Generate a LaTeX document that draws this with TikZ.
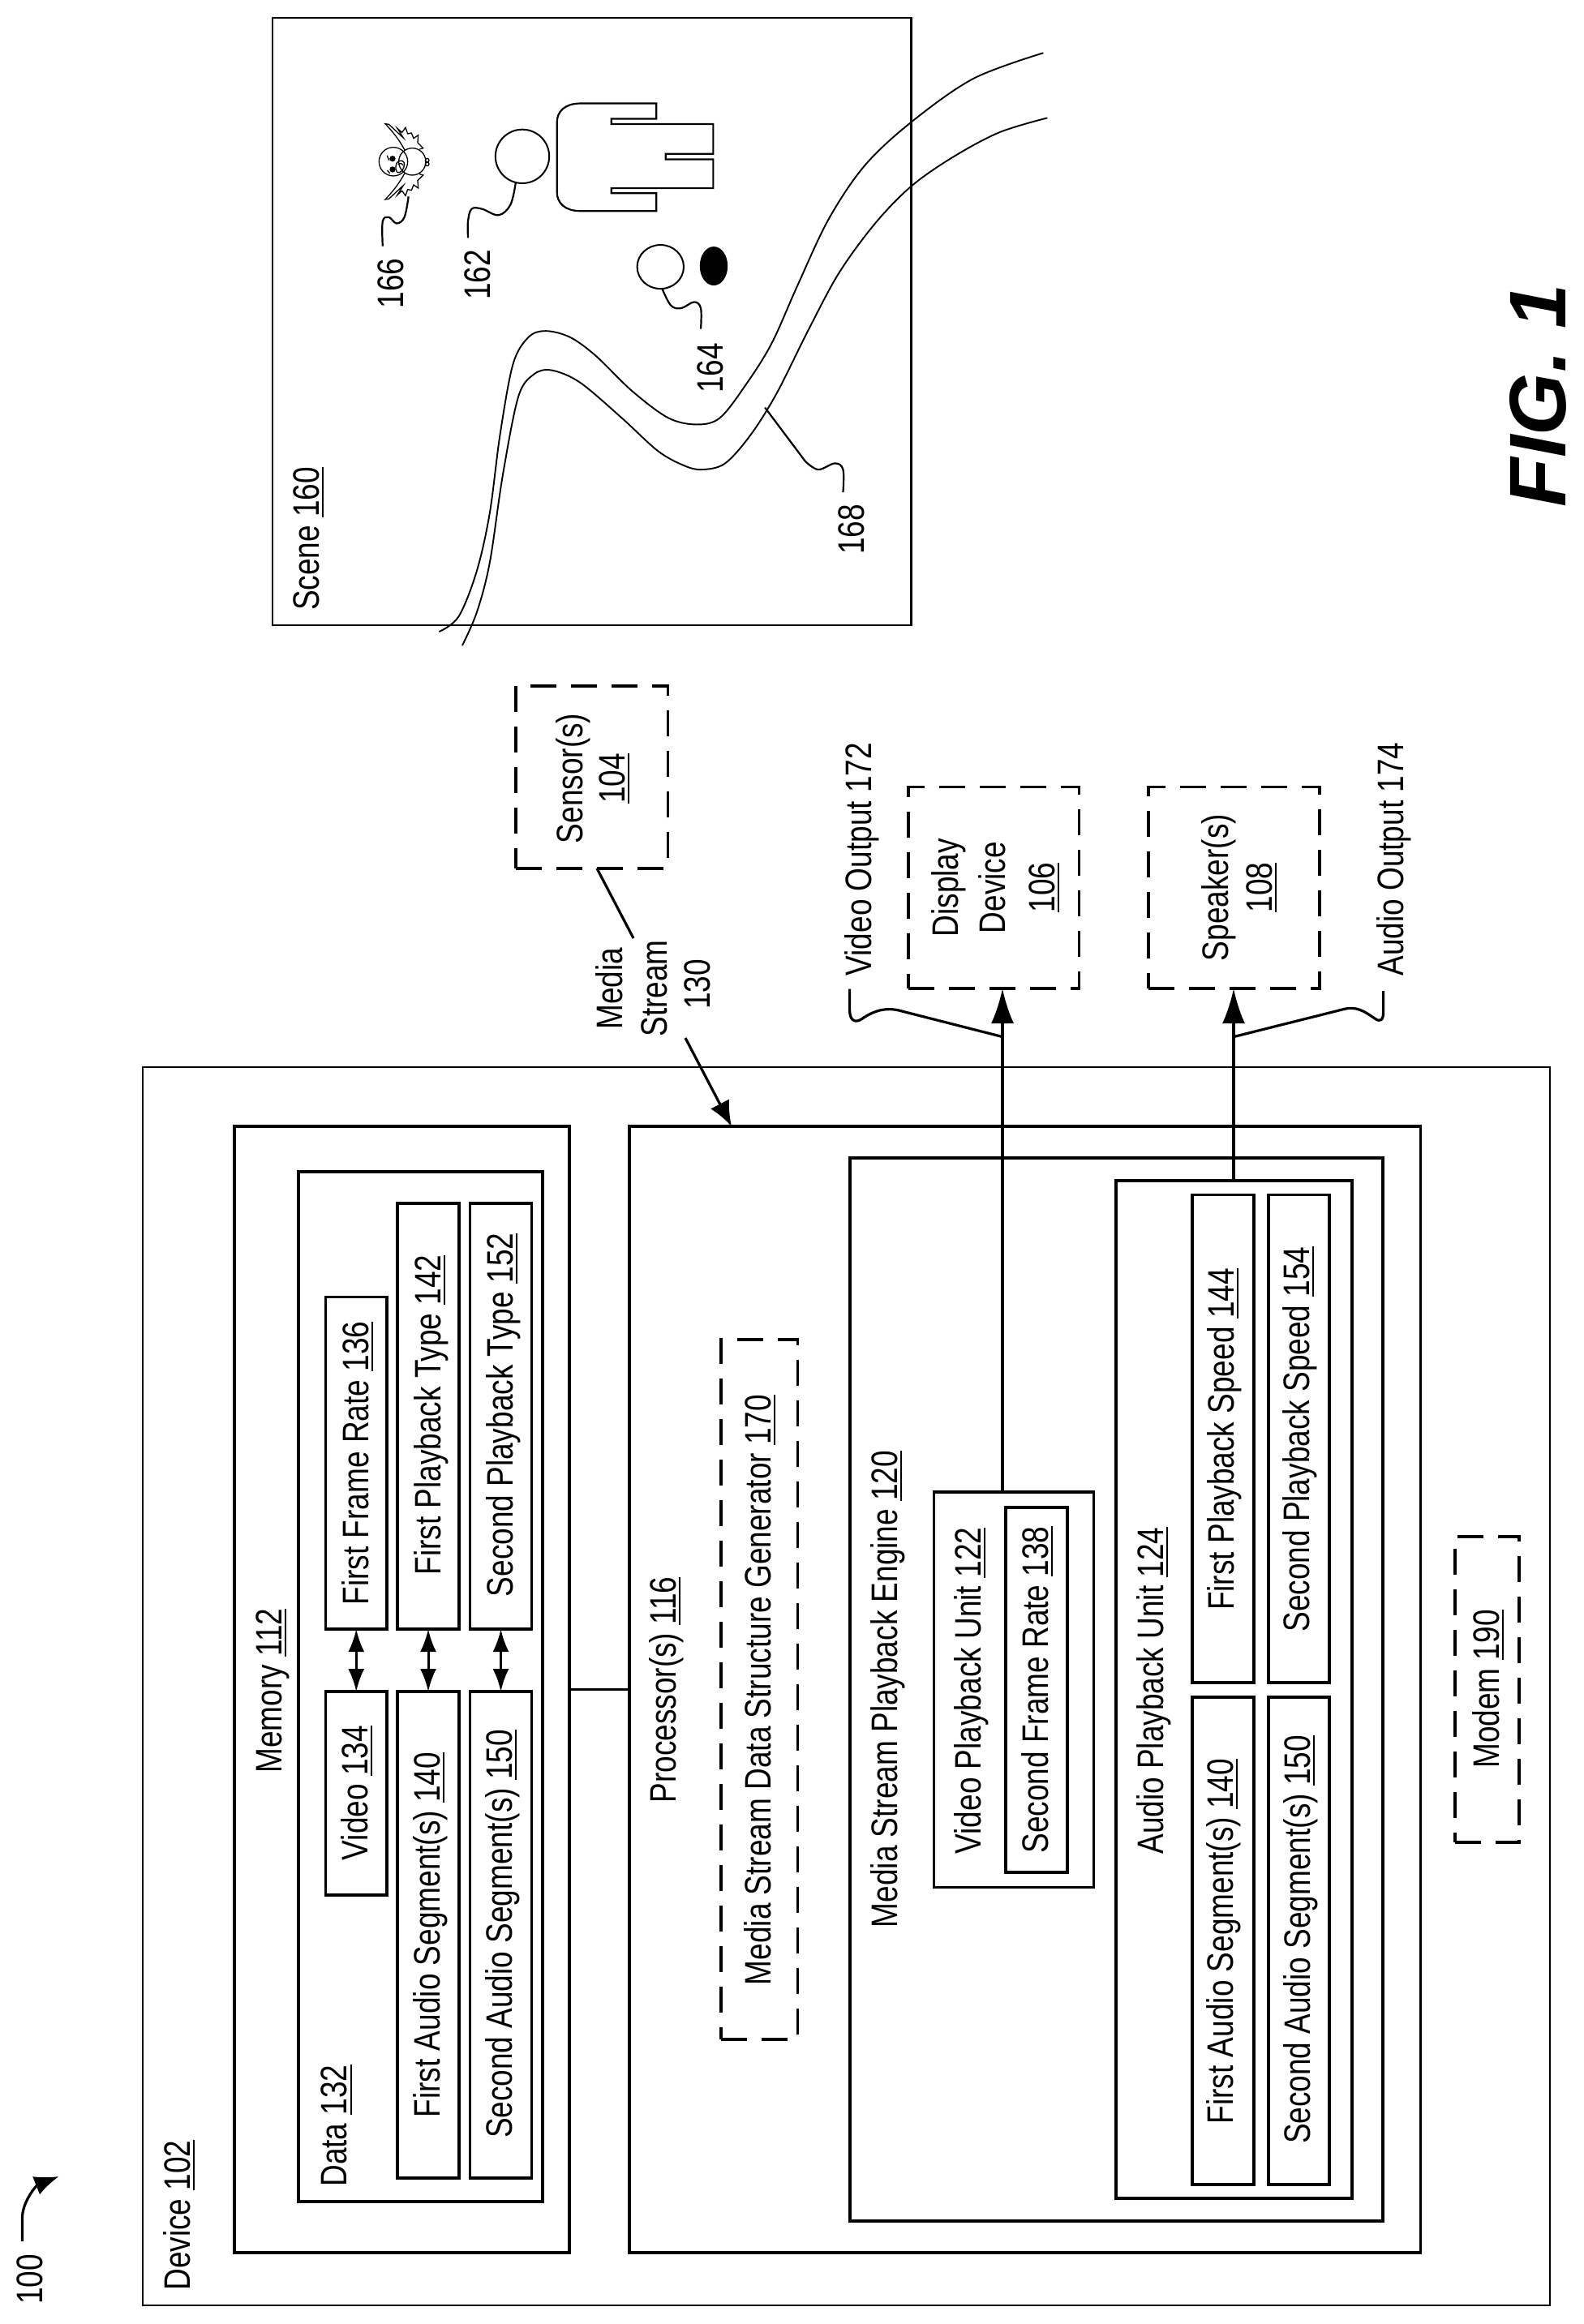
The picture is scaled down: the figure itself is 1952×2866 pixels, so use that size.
\documentclass[tikz,border=0pt]{standalone}
\usepackage{fontspec}
\setmainfont{Liberation Sans}
\usetikzlibrary{arrows.meta,calc}
\newcommand\ulnum[1]{\leavevmode\setbox0\hbox{#1}\rlap{\vrule width\wd0 height -3.3pt depth 5.2pt}\box0 }
\newcommand\bx[6]{\pgfmathsetmacro\bxw{#5-#3}\pgfmathsetmacro\bxh{#6-#4}\pgfmathsetmacro\bxcx{(#3+#5)/2}\pgfmathsetmacro\bxcy{(#4+#6)/2}\node[#1,minimum width=\bxw pt,minimum height=\bxh pt] (#2) at (\bxcx,\bxcy) {};}
\newcommand\tx[4]{\node[lbl] (#1) at (#2,#3) {#4};}
\newcommand\wingpath{(297,405) .. controls (275,365) and (255,340) .. (225,308) -- (238,310) .. controls (255,325) and (275,345) .. (292,360) -- (270,325) -- (287,340) -- (300,322) -- (308,345) -- (322,342) -- (330,362) -- (347,350) -- (345,378) -- (365,398) -- (352,402)}
\tikzset{
  x=1pt,y=-1pt,
  boxa/.style={draw,line width=3.2pt,inner sep=0pt,outer sep=0pt},
  boxthin/.style={draw,line width=2.6pt,inner sep=0pt,outer sep=0pt},
  dashbox/.style={draw,line width=3.4pt,inner sep=0pt,outer sep=0pt,dash pattern=on 32pt off 18pt},
  lbl/.style={rotate=90,yscale=1.23,anchor=base,inner sep=0pt,font=\fontsize{37}{42}\selectfont},
  figlbl/.style={rotate=90,anchor=base,inner sep=0pt,font=\fontsize{99}{110}\selectfont\bfseries\itshape},
  conn/.style={line width=3.2pt},
  bigarr/.style={line width=3.2pt,-{Latex[length=43pt,width=28pt]}},
  midarr/.style={line width=3.2pt,-{Latex[length=31pt,width=26pt]}},
  dbl/.style={line width=3pt,{Latex[length=28pt,width=20pt]}-{Latex[length=28pt,width=20pt]}},
  road/.style={line width=1.9pt},
  lead/.style={line width=2.2pt},
}
\begin{document}
\begin{tikzpicture}
\useasboundingbox (0,0) rectangle (1952,2866);
\fill[white] (0,0) rectangle (1952,2866);
% scene
\bx{boxthin}{scene}{336}{22}{1123.6}{771}
\begin{scope}[shift={(320,0)},x=.6378pt,y=-.5102pt]
\draw[road] plot[smooth,tension=.55] coordinates {(347,1527)(385,1490)(420,1380)(445,1240)(465,1050)(490,880)(520,815)(553,800)(600,815)(650,860)(720,945)(790,1010)(845,1026)(890,1010)(940,930)(990,830)(1040,690)(1100,530)(1170,400)(1260,295)(1380,190)(1515,128)};
\draw[road] plot[smooth,tension=.55] coordinates {(392,1560)(420,1480)(445,1360)(470,1150)(500,960)(530,905)(565,895)(620,925)(700,1010)(770,1090)(820,1125)(855,1135)(900,1120)(950,1050)(1000,950)(1060,800)(1120,660)(1190,540)(1260,450)(1340,380)(1430,320)(1523,285)};
\draw[line width=2.2pt] (767,250) -- (767,287) -- (680,287) -- (680,300) -- (877,300) -- (877,372) -- (785,372) -- (785,385) -- (877,385) -- (877,455) -- (680,455) -- (680,467) -- (767,467) -- (767,510) -- (620,510) .. controls (590,510) and (575,490) .. (575,465) -- (575,295) .. controls (575,270) and (590,250) .. (620,250) -- cycle;
\draw[line width=2pt] (508,378) ellipse [x radius=52,y radius=65];
\draw[line width=2pt] (775,645) ellipse [x radius=45,y radius=53];
\fill (878,643) ellipse [x radius=27,y radius=47];
\draw[lead] plot[smooth,tension=.6] coordinates {(495,443)(485,495)(462,520)(430,505)(410,505)(403,535)(403,575)};
\draw[lead] plot[smooth,tension=.6] coordinates {(288,475)(280,525)(265,540)(250,525)(238,535)(238,595)};
\draw[lead] plot[smooth,tension=.6] coordinates {(778,697)(795,738)(815,745)(840,730)(853,745)(853,795)};
\draw[lead] (977,985) -- (1055,1115);
\draw[lead] plot[smooth,tension=.6] coordinates {(1055,1115)(1080,1135)(1112,1120)(1128,1135)(1128,1190)};
\end{scope}
% bird
\begin{scope}[shift={(400,50)},x=.3333pt,y=-.3333pt,line width=1.3pt]
\draw (255,448) circle [radius=53];
\draw (325,448) circle [radius=50];
\draw \wingpath;
\begin{scope}[shift={(0,896)},yscale=-1]
\draw \wingpath;
\end{scope}
\fill (252,437) circle [radius=11];
\fill (252,477) circle [radius=11];
\draw (232,425) .. controls (234,432) and (236,438) .. (240,443);
\draw (232,482) .. controls (234,478) and (238,488) .. (242,492);
\draw (268,452) .. controls (280,438) and (298,445) .. (296,460) .. controls (294,478) and (280,492) .. (270,488) .. controls (262,480) and (262,465) .. (268,452);
\draw (272,458) .. controls (282,452) and (290,456) .. (292,462);
\draw (380,443) circle [radius=7];
\draw (380,457) circle [radius=7];
\end{scope}
\tx{lscene}{393}{664.5}{Scene \ulnum{160}}
\tx{l166}{497}{349.5}{166}
\tx{l162}{604}{339}{162}
\tx{l164}{891}{454}{164}
\tx{l168}{1065}{653}{168}
% peripherals
\bx{dashbox}{sens}{636}{846}{823.4}{1071}
\bx{dashbox}{disp}{1120}{970.5}{1330.7}{1219}
\bx{dashbox}{spk}{1416}{970.5}{1627}{1219}
\tx{lsens}{718.6}{960}{Sensor(s)}
\tx{lsensn}{770}{960}{\ulnum{104}}
\tx{ldisp}{1181.5}{1094.6}{Display}
\tx{ldev}{1239}{1094.6}{Device}
\tx{ldispn}{1300}{1094.6}{\ulnum{106}}
\tx{lspk}{1514}{1094.6}{Speaker(s)}
\tx{lspkn}{1568}{1094.6}{\ulnum{108}}
\tx{lm1}{767}{1219}{Media}
\tx{lm2}{822}{1219}{Stream}
\tx{lm3}{875}{1214}{130}
\tx{lvo}{1074}{1059.6}{Video Output 172}
\tx{lao}{1730}{1059.6}{Audio Output 174}
% device
\bx{boxthin}{dev}{176}{1316}{1911}{2843}
\tx{ldevice}{234}{2732}{Device \ulnum{102}}
% memory
\bx{boxa}{mem}{289}{1389}{702}{2778}
\tx{lmem}{347}{2085}{Memory \ulnum{112}}
\bx{boxa}{data}{368}{1445}{669}{2715}
\tx{ldata}{427.5}{2621.5}{Data \ulnum{132}}
\bx{boxa}{ffr}{401.5}{1599.5}{477}{2009}
\bx{boxa}{fpt}{490}{1484}{566}{2009}
\bx{boxa}{spt}{579.5}{1484}{655.5}{2009}
\bx{boxa}{vid}{401.5}{2086}{477}{2337}
\bx{boxa}{fas}{490}{2086}{566}{2686}
\bx{boxa}{sas}{579.5}{2086}{655.5}{2686}
\tx{lffr}{454}{1804.5}{First Frame Rate \ulnum{136}}
\tx{lfpt}{543}{1745}{First Playback Type \ulnum{142}}
\tx{lspt}{632}{1745}{Second Playback Type \ulnum{152}}
\tx{lvid}{453}{2211}{Video \ulnum{134}}
\tx{lfas}{542}{2386}{First Audio Segment(s) \ulnum{140}}
\tx{lsas}{631}{2385}{Second Audio Segment(s) \ulnum{150}}
\draw[dbl] (vid.north) -- (ffr.south);
\draw[dbl] (fas.north) -- (fpt.south);
\draw[dbl] (sas.north) -- (spt.south);
% processor
\bx{boxa}{proc}{776}{1389}{1751.5}{2778}
\tx{lproc}{833}{2084}{Processor(s) \ulnum{116}}
\bx{dashbox}{gen}{889}{1652}{983.4}{2515}
\tx{lgen}{950}{2084}{Media Stream Data Structure Generator \ulnum{170}}
\bx{boxa}{eng}{1048}{1428}{1705}{2739}
\tx{leng}{1106}{2083}{Media Stream Playback Engine \ulnum{120}}
\bx{boxa}{vpu}{1151.5}{1840}{1348.5}{2327.5}
\tx{lvpu}{1209}{2085}{Video Playback Unit \ulnum{122}}
\bx{boxa}{sfr}{1240}{1859}{1316}{2309}
\tx{lsfr}{1292}{2084}{Second Frame Rate \ulnum{138}}
\bx{boxa}{apu}{1376}{1456}{1667}{2711}
\tx{lapu}{1434}{2085}{Audio Playback Unit \ulnum{124}}
\bx{boxa}{fps}{1470}{1473.5}{1546}{2075}
\bx{boxa}{sps}{1564}{1473.5}{1639}{2075}
\bx{boxa}{fas2}{1470}{2093}{1546}{2694}
\bx{boxa}{sas2}{1564}{2093}{1639}{2694}
\tx{lfps}{1521}{1775}{First Playback Speed \ulnum{144}}
\tx{lsps}{1614}{1775}{Second Playback Speed \ulnum{154}}
\tx{lfas2}{1520}{2394}{First Audio Segment(s) \ulnum{140}}
\tx{lsas2}{1615}{2392}{Second Audio Segment(s) \ulnum{150}}
\bx{dashbox}{modem}{1794}{1895}{1873}{2272}
\tx{lmodem}{1848}{2083}{Modem \ulnum{190}}
% connectors
\draw[conn] (mem.east) -- (proc.west);
\coordinate (vx) at (1236,0);
\coordinate (ax) at (1521,0);
\draw[bigarr] (vx |- vpu.north) -- (vx |- disp.south);
\draw[bigarr] (ax |- apu.north) -- (ax |- spk.south);
\coordinate (sx) at (736,0);
\coordinate (m1) at (781,1157);
\coordinate (m2) at (845,1280);
\coordinate (px) at (902,0);
\draw[conn] (sx |- sens.south) -- (m1);
\draw[midarr] (m2) -- (px |- proc.north);
% braces
\coordinate (bv) at (1047.6,1219.6);
\coordinate (ba) at (1705.6,1222);
\draw[conn] (bv) -- (1047.6,1246) .. controls (1047.6,1258) and (1054,1262) .. (1062,1257) .. controls (1076,1247) and (1092,1241) .. (1112,1247) -- (vx |- 0,1278.6);
\draw[conn] (ba) -- (1705.6,1248) .. controls (1705.6,1258) and (1702,1261) .. (1695,1256) .. controls (1682,1247) and (1672,1240) .. (1655,1245) -- (ax |- 0,1278.6);
% figure reference
\tx{l100}{52}{2811}{100}
\coordinate (a100s) at (27.5,2764);
\coordinate (a100e) at (72.5,2684);
\draw[line width=3.2pt,-{Latex[length=30pt,width=24pt]}] (a100s) -- (27.5,2735) .. controls (27.5,2715) and (45,2695) .. (a100e);
\node[figlbl] (fig) at (1930,487.5) {FIG. 1};
\end{tikzpicture}
\end{document}
